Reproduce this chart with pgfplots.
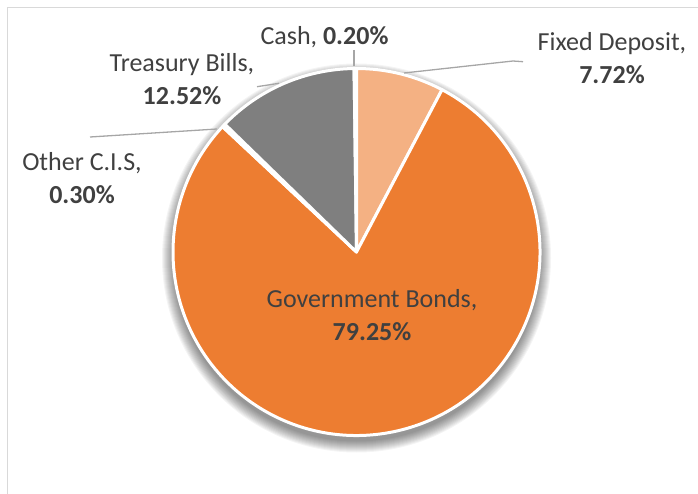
\documentclass[border=0pt]{standalone}
\usepackage{fontspec}
\setmainfont{Carlito}
\usepackage{pgfplots}
\usepackage{pgfplotstable}
\pgfplotsset{compat=1.18}

\definecolor{fdcol}{HTML}{F4B183}
\definecolor{gbcol}{HTML}{ED7D31}
\definecolor{ciscol}{HTML}{FFC000}
\definecolor{tbcol}{HTML}{7F7F7F}
\definecolor{cashcol}{HTML}{5B9BD5}
\definecolor{txt}{HTML}{404040}
\definecolor{leader}{HTML}{A6A6A6}
\definecolor{frame}{HTML}{D9D9D9}

\pgfplotstableread[col sep=comma]{
name,share
Fixed Deposit,7.72
Government Bonds,79.25
Other C.I.S,0.30
Treasury Bills,12.52
Cash,0.20
}\shares

% cumulative angles, clockwise from 12 o'clock
\newcommand\getshare[2]{\pgfplotstablegetelem{#1}{share}\of\shares\global\let#2\pgfplotsretval}
\getshare{0}\sA \getshare{1}\sB \getshare{2}\sC \getshare{3}\sD \getshare{4}\sE
\pgfmathsetmacro\aA{90}
\pgfmathsetmacro\aB{\aA-3.6*\sA}
\pgfmathsetmacro\aC{\aB-3.6*\sB}
\pgfmathsetmacro\aD{\aC-3.6*\sC}
\pgfmathsetmacro\aE{\aD-3.6*\sD}
\pgfmathsetmacro\aF{\aE-3.6*\sE}

\def\cx{356.5}
\def\cy{241}
\def\R{183.5}

\begin{document}
\begin{tikzpicture}
\useasboundingbox (0,0) rectangle (698pt,493pt);
\begin{axis}[
  at={(0,0)}, anchor=south west,
  scale only axis, width=698pt, height=493pt,
  xmin=0, xmax=698, ymin=0, ymax=493,
  hide axis, clip=false,
]
% chart frame
\draw[frame, line width=1.3pt] (axis cs:7.5,-10) -- (axis cs:7.5,485.5) -- (axis cs:710,485.5);

% soft shadow
\pgfplotsinvokeforeach{0,...,11}{
  \fill[black, opacity=0.045] (axis cs:\cx,\cy-6) circle[radius={\R+#1}];
}

% sectors
\def\sector#1#2#3{%
  \filldraw[#3, draw=white, line width=3pt, line join=round]
    (axis cs:\cx,\cy) -- ++(#1:\R pt) arc[start angle=#1, end angle=#2, radius=\R pt] -- cycle;}
\sector{\aA}{\aB}{fdcol}
\sector{\aB}{\aC}{gbcol}
\sector{\aC}{\aD}{ciscol}
\sector{\aD}{\aE}{tbcol}
\sector{\aE}{\aF}{cashcol}

% leader lines
\draw[leader, line width=1.3pt] (axis cs:354,443) -- (axis cs:354,427);
\draw[leader, line width=1.3pt] (axis cs:404,420) -- (axis cs:513,432) -- (axis cs:523,431.3);
\draw[leader, line width=1.3pt] (axis cs:257,406.3) -- (axis cs:279,409.7);
\draw[leader, line width=1.3pt] (axis cs:90,356) -- (axis cs:217,364);

% data labels
\tikzset{lbl/.style={text=txt, align=center, font=\fontsize{26}{33}\selectfont, inner sep=0pt}}
\node[lbl] at (axis cs:324.5,456) {Cash, \textbf{0.20\%}};
\node[lbl] at (axis cs:612,435) {Fixed Deposit,\\\textbf{7.72\%}};
\node[lbl] at (axis cs:182,414) {Treasury Bills,\\\textbf{12.52\%}};
\node[lbl] at (axis cs:82,315) {Other C.I.S,\\\textbf{0.30\%}};
\node[lbl] at (axis cs:372,178) {Government Bonds,\\\textbf{79.25\%}};
\end{axis}
\end{tikzpicture}
\end{document}
